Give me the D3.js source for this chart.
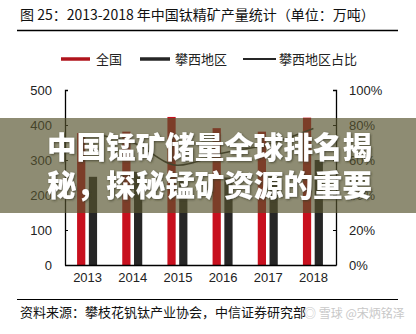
<!DOCTYPE html>
<html><head><meta charset="utf-8">
<script src="https://cdn.jsdelivr.net/npm/d3@7/dist/d3.min.js"></script>
<style>
html,body{margin:0;padding:0;background:#fff;}
svg{display:block;font-family:"Liberation Sans","Noto Sans CJK SC",sans-serif;}
</style></head><body>
<svg id="c" width="416" height="334"></svg>
<script>
const years = ["2013","2014","2015","2016","2017","2018"];
const national = [377, 381, 423, 391, 381, 421];
const panxi = [252, 266, 241, 250, 262, 300];
const share = [75, 70, 57, 64, 69, 78];
const leftTicks = [0, 100, 200, 300, 400, 500];
const rightTicks = [0, 20, 40, 60, 80, 100];
const seriesNames = ["全国", "攀西地区", "攀西地区占比"];
const titleText = "图 25：2013-2018 年中国钛精矿产量统计（单位：万吨）";
const sourceText = "资料来源：攀枝花钒钛产业协会，中信证券研究部";
const bannerLines = ["中国锰矿储量全球排名揭", "秘，探秘锰矿资源的重要"];

const svg = d3.select("#c");
const cjk = "'Noto Sans CJK SC',sans-serif";

// title
svg.append("text").attr("x", 20).attr("y", 20).attr("font-size", 14)
  .attr("font-family", cjk).attr("fill", "#111").text(titleText);
svg.append("line").attr("x1", 17).attr("x2", 398).attr("y1", 30.5).attr("y2", 30.5)
  .attr("stroke", "#000").attr("stroke-width", 1.5);

// legend
const lg = svg.append("g").attr("font-family", cjk).attr("font-size", 13).attr("fill", "#222");
const legendItems = [
  {x1: 61, x2: 90, tx: 96, color: "#b0141c", w: 3.5, name: seriesNames[0]},
  {x1: 140, x2: 170, tx: 175, color: "#262626", w: 3.5, name: seriesNames[1]},
  {x1: 243, x2: 276, tx: 279, color: "#262626", w: 2, name: seriesNames[2]}
];
legendItems.forEach(d => {
  lg.append("line").attr("x1", d.x1).attr("x2", d.x2).attr("y1", 59).attr("y2", 59)
    .attr("stroke", d.color).attr("stroke-width", d.w);
  lg.append("text").attr("x", d.tx).attr("y", 64).text(d.name);
});

// scales
const x0 = d3.scaleBand().domain(years).range([65, 336]);
const x1 = d3.scaleBand().domain(["n", "p"]).range([-10.5, 9.5]).paddingInner(0.3);
const y = d3.scaleLinear().domain([0, 500]).range([265, 90]);
const y2 = d3.scaleLinear().domain([0, 100]).range([265, 90]);

// bars
const g = svg.append("g");
g.selectAll(".bn").data(national).join("rect")
  .attr("x", (d, i) => x0(years[i]) + x0.bandwidth() / 2 + x1("n"))
  .attr("width", x1.bandwidth()).attr("y", d => y(d)).attr("height", d => y(0) - y(d))
  .attr("fill", "#c8101e");
g.selectAll(".bp").data(panxi).join("rect")
  .attr("x", (d, i) => x0(years[i]) + x0.bandwidth() / 2 + x1("p"))
  .attr("width", x1.bandwidth()).attr("y", d => y(d)).attr("height", d => y(0) - y(d))
  .attr("fill", "#262626");

// line
const line = d3.line().x((d, i) => x0(years[i]) + x0.bandwidth() / 2).y(d => y2(d))
  .curve(d3.curveMonotoneX);
g.append("path").datum(share).attr("d", line).attr("fill", "none")
  .attr("stroke", "#2a2a2a").attr("stroke-width", 1.6);

// axes
const axL = d3.axisLeft(y).tickValues(leftTicks).tickSize(-3).tickPadding(13);
const axR = d3.axisRight(y2).tickValues(rightTicks).tickSize(-3).tickPadding(13)
  .tickFormat(d => d + "%");
const styleAxis = sel => {
  sel.select(".domain").attr("stroke", "#000").attr("stroke-width", 1.3);
  sel.selectAll(".tick line").attr("stroke", "#000");
  sel.selectAll("text").attr("font-size", 13).attr("fill", "#222")
    .attr("font-family", "'Liberation Sans',Arial,sans-serif");
};
svg.append("g").attr("transform", "translate(65,0)").call(axL).call(styleAxis)
  .call(s => s.select(".domain").attr("d", "M3,90.5H0.5V265.5"));
svg.append("g").attr("transform", "translate(336,0)").call(axR).call(styleAxis)
  .call(s => s.select(".domain").attr("d", "M-3,90.5H0.5V265.5"));
const axB = d3.axisBottom(x0).tickSize(0).tickPadding(8);
svg.append("g").attr("transform", "translate(0,265)").call(axB).call(styleAxis)
  .call(s => s.select(".domain").attr("d", "M65,0.5H336.5"));

// source
svg.append("line").attr("x1", 17).attr("x2", 398).attr("y1", 299.5).attr("y2", 299.5)
  .attr("stroke", "#000").attr("stroke-width", 1);
svg.append("text").attr("x", 20).attr("y", 317).attr("font-size", 13)
  .attr("font-family", cjk).attr("fill", "#111").text(sourceText);
svg.append("text").attr("x", 304).attr("y", 318).attr("font-size", 12)
  .attr("font-family", cjk).attr("fill", "#c8c8c8").text("◎ 雪球 @宋炳铭泽");

// banner overlay
const defs = svg.append("defs");
const f = defs.append("filter").attr("id", "sh").attr("x", "-10%").attr("y", "-30%")
  .attr("width", "120%").attr("height", "160%");
f.append("feDropShadow").attr("dx", 1).attr("dy", 1).attr("stdDeviation", 1.2)
  .attr("flood-color", "#3a3a28").attr("flood-opacity", 0.8);
svg.append("rect").attr("x", 0).attr("y", 118).attr("width", 416).attr("height", 95)
  .attr("fill", "rgb(87,83,46)").attr("fill-opacity", 0.67);
const bt = svg.append("g").attr("font-family", "'Noto Sans CJK SC',sans-serif")
  .attr("font-weight", 900).attr("font-size", 29.5).attr("fill", "#fff")
  .attr("filter", "url(#sh)");
bannerLines.forEach((t, i) => {
  bt.append("text").attr("x", 47).attr("y", 158 + i * 38).attr("textLength", 325)
    .attr("lengthAdjust", "spacing").text(t);
});
</script>
</body></html>
